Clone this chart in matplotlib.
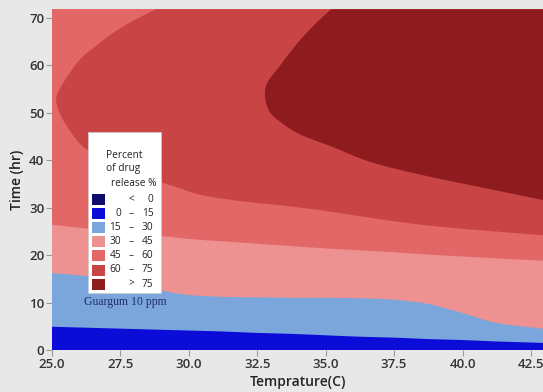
import matplotlib
matplotlib.use("Agg")
import matplotlib.pyplot as plt
from matplotlib.patches import Rectangle, PathPatch
from matplotlib.path import Path

# ---- contour band boundaries (Time, hr) along Temperature (C) ----
temp = [25.0, 26.25, 27.5, 28.75, 30.0, 31.25, 32.5, 33.75, 35.0,
        36.25, 37.5, 38.75, 40.0, 41.25, 42.94]
edge_15 = [4.9, 4.7, 4.5, 4.3, 4.1, 3.9, 3.6, 3.4, 3.1, 2.8, 2.6, 2.3, 2.1, 1.8, 1.5]
edge_30 = [16.2, 15.6, 14.6, 12.8, 11.6, 11.2, 11.1, 11.0, 11.0, 10.9, 10.6, 9.7, 7.8, 5.7, 4.5]
edge_45 = [26.4, 25.6, 24.9, 24.2, 23.4, 22.9, 22.4, 21.9, 21.4, 21.0, 20.6, 20.1, 19.7, 19.3, 18.8]

# 60-75 region: upper edge from the top down to the left tip, then lower edge to the right side
band60_T = [28.8, 28.0, 27.2, 26.5, 26.0, 25.4, 25.15, 25.4, 26.0, 26.5, 27.5, 28.5,
            29.5, 30.5, 32.0, 33.5, 35.0, 36.7, 38.5, 40.5, 42.94]
band60_t = [71.8, 69.5, 66.7, 63.6, 61.1, 56.2, 52.7, 48.5, 43.6, 41.5, 38.6, 36.3,
            34.4, 32.6, 31.3, 30.4, 29.3, 27.8, 26.4, 25.3, 24.2]

# >75 region: upper edge from the top down to the tip, then lower edge to the right side
band75_T = [35.2, 34.65, 33.97, 33.3, 32.88, 32.78, 32.85, 33.1, 33.97, 35.2, 36.65,
            38.5, 40.5, 42.94]
band75_t = [71.8, 68.9, 64.7, 59.7, 56.5, 54.2, 51.5, 49.2, 45.7, 42.9, 39.6,
            36.9, 34.5, 31.6]

levels = [0, 15, 30, 45, 60, 75]
colors = ["#0e0d6c", "#0b0cd8", "#7ba6db", "#ee9191", "#e36767", "#c94545", "#8e1c1f"]

x_ticks = [25.0, 27.5, 30.0, 32.5, 35.0, 37.5, 40.0, 42.5]
y_ticks = [0, 10, 20, 30, 40, 50, 60, 70]
T_MIN, T_MAX = 25.0, 42.94
t_MIN, t_MAX = 0.0, 71.8


def smooth_region(xs, ys, corners):
    """Smooth (Catmull-Rom) curve through the boundary points, closed by straight
    segments through the given corner points."""
    pts = list(zip(xs, ys))
    verts = [pts[0]]
    codes = [Path.MOVETO]
    n = len(pts)
    for i in range(n - 1):
        p0 = pts[i - 1] if i > 0 else pts[i]
        p1 = pts[i]
        p2 = pts[i + 1]
        p3 = pts[i + 2] if i + 2 < n else pts[i + 1]
        c1 = (p1[0] + (p2[0] - p0[0]) / 6, p1[1] + (p2[1] - p0[1]) / 6)
        c2 = (p2[0] - (p3[0] - p1[0]) / 6, p2[1] - (p3[1] - p1[1]) / 6)
        verts += [c1, c2, p2]
        codes += [Path.CURVE4] * 3
    for c in corners:
        verts.append(c)
        codes.append(Path.LINETO)
    verts.append(pts[0])
    codes.append(Path.CLOSEPOLY)
    return Path(verts, codes)


W, H = 543, 392
fig = plt.figure(figsize=(W / 100, H / 100), dpi=100, facecolor="#e8e8e8")
ax = fig.add_axes([52 / W, 42 / H, 491 / W, 340.7 / H])
ax.set_facecolor(colors[4])  # 45-60 fills the remaining area

top_right = [(T_MAX, t_MAX)]
ax.add_patch(PathPatch(smooth_region(band60_T, band60_t, top_right),
                       facecolor=colors[5], lw=0))
ax.add_patch(PathPatch(smooth_region(band75_T, band75_t, top_right),
                       facecolor=colors[6], lw=0))

bottom = [(T_MAX, t_MIN), (T_MIN, t_MIN)]
for edge, c in [(edge_45, colors[3]), (edge_30, colors[2]), (edge_15, colors[1])]:
    ax.add_patch(PathPatch(smooth_region(temp, edge, bottom), facecolor=c, lw=0))

ax.set_xlim(T_MIN, T_MAX)
ax.set_ylim(t_MIN, t_MAX)
for s in ax.spines.values():
    s.set_visible(False)
ax.set_xticks(x_ticks)
ax.set_xticklabels([f"{v:.1f}" for v in x_ticks])
ax.set_yticks(y_ticks)
ax.tick_params(length=4, width=0.8, color="#9a9a9a", labelsize=9.5,
               labelcolor="#333333", pad=1.5)
for lab in ax.get_xticklabels() + ax.get_yticklabels():
    lab.set_fontfamily("Open Sans")
    lab.set_fontweight("semibold")

ax.set_xlabel("Temprature(C)", fontsize=10, family="Open Sans",
              fontweight="semibold", color="#222222", labelpad=3)
ax.set_ylabel("Time (hr)", fontsize=10, family="Open Sans",
              fontweight="semibold", color="#222222", labelpad=4)


# ---- legend box (pixel layout) ----
def fx(px):
    return px / W


def fy(py):
    return 1 - py / H


fig.add_artist(Rectangle((fx(88), fy(293)), (161.5 - 88) / W, (293 - 132.5) / H,
                         transform=fig.transFigure, facecolor="white",
                         edgecolor="#cccccc", lw=0.5))
legend_font = dict(family="Open Sans", fontsize=7.3, color="#222222",
                   transform=fig.transFigure)
fig.text(fx(106), fy(155), "Percent", ha="left", va="center", **legend_font)
fig.text(fx(106), fy(169), "of drug", ha="left", va="center", **legend_font)
fig.text(fx(111), fy(183), "release %", ha="left", va="center", **legend_font)

row_left = [""] + [str(v) for v in levels[:-1]] + [""]
row_mid = ["<"] + ["\u2013"] * (len(levels) - 1) + [">"]
row_right = [str(levels[0])] + [str(v) for v in levels[1:]] + [str(levels[-1])]
for i, c in enumerate(colors):
    yc = 199.5 + i * 14.1
    fig.add_artist(Rectangle((fx(92), fy(yc + 5.5)), 13 / W, 11 / H,
                             transform=fig.transFigure, facecolor=c, lw=0))
    fig.text(fx(121), fy(yc), row_left[i], ha="right", va="center", **legend_font)
    fig.text(fx(131), fy(yc), row_mid[i], ha="center", va="center", **legend_font)
    fig.text(fx(153.5), fy(yc), row_right[i], ha="right", va="center", **legend_font)

fig.text(fx(84), fy(302), "Guargum 10 ppm", ha="left", va="center",
         family="Liberation Serif", fontsize=8.5, color="#1f2f6e")

fig.savefig("out.png", dpi=100, facecolor=fig.get_facecolor())
